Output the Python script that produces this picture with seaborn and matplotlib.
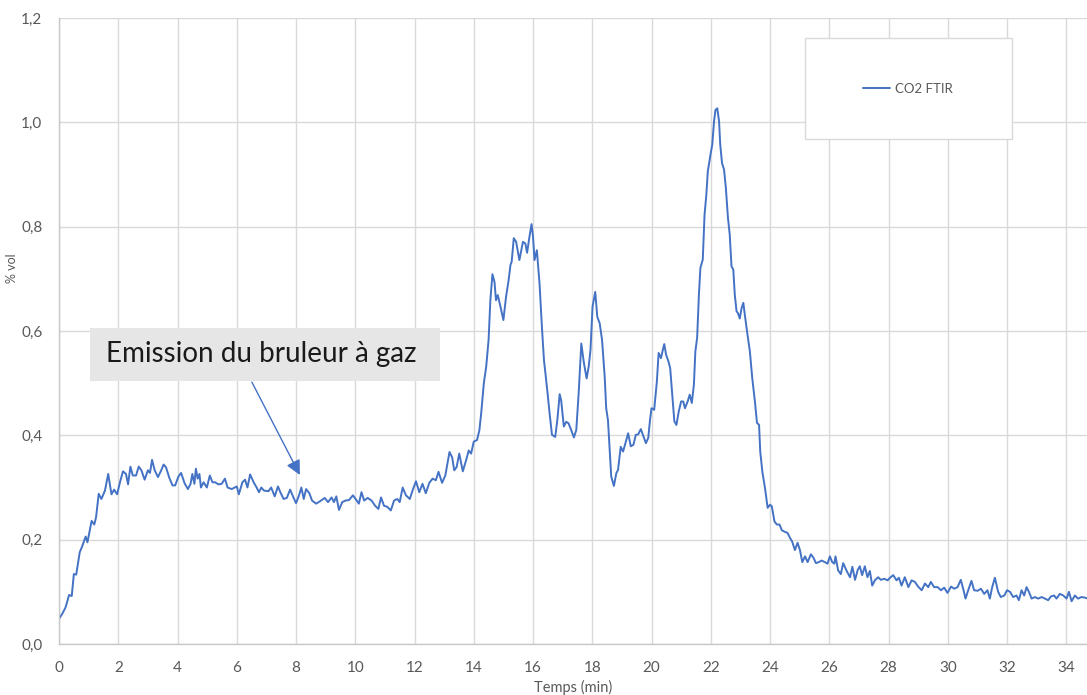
import pandas as pd
import seaborn as sns
import matplotlib.pyplot as plt
from matplotlib.patches import Rectangle
from matplotlib.ticker import FuncFormatter, MultipleLocator

# readings of the CO2 FTIR trace, split in segments (time in min, value in % vol)
t_rise = [0.00, 0.11, 0.22, 0.34, 0.43, 0.50, 0.58, 0.70, 0.78, 0.90,
          0.96, 1.10, 1.19, 1.25, 1.34, 1.43, 1.55, 1.66, 1.77, 1.86,
          1.96, 2.07, 2.16, 2.26, 2.33, 2.41, 2.49, 2.60, 2.69, 2.78,
          2.89, 3.00, 3.07, 3.14, 3.23, 3.34, 3.45, 3.53, 3.61, 3.72,
          3.83, 3.92, 4.03, 4.12, 4.24, 4.35, 4.44, 4.50, 4.57, 4.62,
          4.68, 4.74, 4.79, 4.88, 4.99, 5.09, 5.18, 5.27, 5.38, 5.49,
          5.60, 5.69, 5.83, 6.00, 6.07, 6.19, 6.28, 6.36, 6.45, 6.57,
          6.67, 6.75, 6.83, 6.92]
co2_rise = [0.048, 0.058, 0.070, 0.094, 0.092, 0.134, 0.133, 0.176, 0.187, 0.206,
            0.195, 0.236, 0.229, 0.243, 0.288, 0.278, 0.294, 0.326, 0.287, 0.296,
            0.287, 0.313, 0.331, 0.326, 0.306, 0.340, 0.323, 0.323, 0.340, 0.333,
            0.315, 0.333, 0.328, 0.353, 0.333, 0.320, 0.333, 0.344, 0.339, 0.319,
            0.304, 0.304, 0.321, 0.328, 0.308, 0.297, 0.307, 0.326, 0.307, 0.336,
            0.317, 0.326, 0.300, 0.310, 0.300, 0.323, 0.310, 0.310, 0.306, 0.307,
            0.317, 0.300, 0.297, 0.302, 0.287, 0.310, 0.315, 0.300, 0.325, 0.310,
            0.300, 0.291, 0.300, 0.294]

t_burner = [7.07, 7.16, 7.28, 7.39, 7.47, 7.58, 7.69, 7.80, 7.92, 8.00,
            8.09, 8.18, 8.26, 8.34, 8.45, 8.54, 8.68, 8.82, 8.97, 9.08,
            9.20, 9.28, 9.36, 9.45, 9.56, 9.67, 9.79, 9.92, 10.05, 10.12,
            10.21, 10.30, 10.42, 10.55, 10.67, 10.78, 10.87, 10.97, 11.08, 11.20,
            11.31, 11.42, 11.50, 11.60, 11.71, 11.84, 11.95, 12.05, 12.16, 12.27,
            12.38, 12.50, 12.61, 12.72, 12.81, 12.93, 13.04, 13.18, 13.27, 13.34,
            13.42, 13.51, 13.63, 13.74, 13.83, 13.91]
co2_burner = [0.293, 0.300, 0.283, 0.302, 0.291, 0.278, 0.280, 0.296, 0.280, 0.270,
              0.283, 0.300, 0.278, 0.297, 0.289, 0.275, 0.269, 0.274, 0.280, 0.272,
              0.281, 0.272, 0.283, 0.257, 0.272, 0.275, 0.276, 0.285, 0.275, 0.269,
              0.291, 0.275, 0.280, 0.275, 0.265, 0.259, 0.281, 0.265, 0.263, 0.256,
              0.275, 0.278, 0.272, 0.300, 0.285, 0.278, 0.297, 0.312, 0.291, 0.307,
              0.289, 0.309, 0.317, 0.314, 0.330, 0.309, 0.323, 0.368, 0.358, 0.333,
              0.339, 0.365, 0.331, 0.352, 0.371, 0.365]

t_peaks1 = [14.00, 14.11, 14.19, 14.25, 14.34, 14.42, 14.50, 14.56, 14.63, 14.70,
            14.75, 14.81, 14.90, 15.00, 15.09, 15.17, 15.24, 15.28, 15.35, 15.43,
            15.54, 15.66, 15.74, 15.80, 15.88, 15.95, 16.00, 16.05, 16.13, 16.22,
            16.30, 16.37, 16.48, 16.56, 16.64, 16.75, 16.82, 16.90, 16.95, 17.04,
            17.12, 17.20, 17.29, 17.38, 17.46, 17.54, 17.63, 17.72, 17.81, 17.88,
            17.94, 18.01, 18.10, 18.17, 18.25, 18.33, 18.42, 18.47, 18.53, 18.59,
            18.64, 18.73, 18.81, 18.87, 18.96, 19.04, 19.12, 19.21]
co2_peaks1 = [0.388, 0.391, 0.410, 0.442, 0.500, 0.532, 0.583, 0.659, 0.709, 0.694,
              0.659, 0.669, 0.647, 0.621, 0.666, 0.695, 0.727, 0.733, 0.778, 0.771,
              0.736, 0.771, 0.768, 0.750, 0.781, 0.805, 0.781, 0.736, 0.755, 0.691,
              0.608, 0.544, 0.487, 0.442, 0.401, 0.397, 0.429, 0.479, 0.467, 0.417,
              0.426, 0.423, 0.410, 0.396, 0.410, 0.480, 0.576, 0.538, 0.509, 0.532,
              0.564, 0.647, 0.675, 0.627, 0.615, 0.583, 0.512, 0.452, 0.429, 0.372,
              0.321, 0.303, 0.327, 0.334, 0.378, 0.369, 0.385, 0.404]

t_peaks2 = [19.30, 19.39, 19.47, 19.55, 19.64, 19.73, 19.81, 19.89, 19.95, 20.00,
            20.09, 20.18, 20.24, 20.32, 20.37, 20.43, 20.49, 20.57, 20.63, 20.70,
            20.77, 20.84, 20.92, 21.00, 21.07, 21.13, 21.22, 21.29, 21.36, 21.43,
            21.48, 21.54, 21.60, 21.65, 21.73, 21.79, 21.85, 21.90, 21.99, 22.05,
            22.11, 22.16, 22.22, 22.28, 22.32, 22.38, 22.45, 22.51, 22.58, 22.64,
            22.70, 22.76, 22.81, 22.87, 22.92, 22.98, 23.04, 23.10, 23.15, 23.24,
            23.32, 23.40, 23.49, 23.56, 23.63, 23.67, 23.74, 23.83, 23.92, 24.00,
            24.06, 24.15, 24.23, 24.32]
co2_peaks2 = [0.379, 0.382, 0.401, 0.402, 0.412, 0.398, 0.385, 0.395, 0.430, 0.452,
              0.449, 0.503, 0.558, 0.548, 0.561, 0.575, 0.555, 0.542, 0.529, 0.478,
              0.427, 0.420, 0.446, 0.465, 0.465, 0.452, 0.465, 0.478, 0.462, 0.497,
              0.561, 0.587, 0.670, 0.721, 0.737, 0.823, 0.861, 0.906, 0.938, 0.957,
              1.002, 1.024, 1.027, 1.002, 0.957, 0.922, 0.909, 0.874, 0.817, 0.785,
              0.724, 0.718, 0.670, 0.638, 0.634, 0.624, 0.644, 0.654, 0.631, 0.593,
              0.561, 0.510, 0.465, 0.424, 0.420, 0.369, 0.331, 0.299, 0.261, 0.267,
              0.264, 0.235, 0.229, 0.229]

t_tail = [24.40, 24.50, 24.59, 24.67, 24.75, 24.84, 24.93, 25.01, 25.09, 25.18,
          25.27, 25.38, 25.47, 25.55, 25.65, 25.74, 25.85, 25.94, 26.02, 26.10,
          26.17, 26.21, 26.30, 26.39, 26.47, 26.58, 26.70, 26.78, 26.87, 26.96,
          27.03, 27.11, 27.20, 27.29, 27.37, 27.45, 27.54, 27.65, 27.74, 27.86,
          27.97, 28.05, 28.16, 28.27, 28.35, 28.44, 28.55, 28.67, 28.78, 28.89,
          29.00, 29.12, 29.23, 29.34, 29.43, 29.54, 29.66, 29.77, 29.88, 29.99,
          30.11, 30.22, 30.33, 30.44, 30.52, 30.60, 30.69, 30.80, 30.89, 31.01,
          31.12, 31.23, 31.34, 31.42, 31.50, 31.59, 31.70, 31.79, 31.91, 32.00,
          32.10, 32.21, 32.32, 32.40, 32.49, 32.58, 32.66, 32.74, 32.83, 32.94,
          33.05, 33.17, 33.28, 33.39, 33.48, 33.59, 33.67, 33.78, 33.90, 34.01,
          34.09, 34.18, 34.29, 34.40, 34.51, 34.62, 34.73]
co2_tail = [0.218, 0.215, 0.213, 0.204, 0.196, 0.180, 0.194, 0.180, 0.157, 0.168,
            0.157, 0.172, 0.165, 0.155, 0.157, 0.160, 0.157, 0.154, 0.168, 0.157,
            0.154, 0.168, 0.141, 0.134, 0.155, 0.141, 0.128, 0.148, 0.123, 0.142,
            0.149, 0.132, 0.149, 0.128, 0.140, 0.112, 0.122, 0.128, 0.123, 0.125,
            0.122, 0.127, 0.132, 0.122, 0.127, 0.112, 0.128, 0.109, 0.122, 0.119,
            0.110, 0.103, 0.116, 0.109, 0.119, 0.109, 0.109, 0.103, 0.108, 0.098,
            0.110, 0.106, 0.109, 0.123, 0.106, 0.087, 0.103, 0.121, 0.103, 0.102,
            0.106, 0.096, 0.103, 0.087, 0.109, 0.127, 0.100, 0.090, 0.093, 0.103,
            0.100, 0.090, 0.093, 0.084, 0.103, 0.093, 0.109, 0.100, 0.087, 0.090,
            0.087, 0.090, 0.087, 0.084, 0.091, 0.093, 0.087, 0.096, 0.093, 0.087,
            0.100, 0.082, 0.093, 0.087, 0.090, 0.089, 0.087]

series_name = "CO2 FTIR"
note_text = "Emission du bruleur à gaz"

BLUE = "#4472C4"
GRID = "#D9D9D9"
TXT = "#595959"

temps = t_rise + t_burner + t_peaks1 + t_peaks2 + t_tail
co2 = co2_rise + co2_burner + co2_peaks1 + co2_peaks2 + co2_tail
df = pd.DataFrame({"Temps (min)": temps, "% vol": co2})

sns.set_style("white")
plt.rcParams["font.family"] = ["Lato", "DejaVu Sans"]

fig = plt.figure(figsize=(10.87, 6.95), dpi=100)
ax = fig.add_axes([0.0543, 0.0734, 0.9457, 0.9006])

sns.lineplot(data=df, x="Temps (min)", y="% vol", ax=ax, color=BLUE,
             linewidth=1.4, estimator=None, sort=False, legend=False)

ax.set_xlim(0, 34.7)
ax.set_ylim(0, 1.2)
ax.xaxis.set_major_locator(MultipleLocator(2))
ax.yaxis.set_major_locator(MultipleLocator(0.2))
ax.yaxis.set_major_formatter(FuncFormatter(lambda v, p: f"{v:.1f}".replace(".", ",")))
ax.xaxis.set_major_formatter(FuncFormatter(lambda v, p: f"{v:.0f}"))
ax.grid(True, color=GRID, linewidth=1)
ax.set_axisbelow(True)
ax.tick_params(length=0, labelsize=11, labelcolor=TXT, pad=12)
for side in ["top", "right"]:
    ax.spines[side].set_visible(False)
for side in ["left", "bottom"]:
    ax.spines[side].set_color("#C8C8C8")
    ax.spines[side].set_linewidth(1)

ax.set_xlabel("Temps (min)", fontsize=10.5, color=TXT, labelpad=4)
ax.set_ylabel("% vol", fontsize=9, color=TXT)
ax.yaxis.set_label_coords(-0.040, 0.60)

# legend box
ax.add_patch(Rectangle((0.7257, 0.807), 0.2014, 0.161, transform=ax.transAxes,
                       facecolor="white", edgecolor=GRID, linewidth=1, zorder=4))
leg = ax.legend([plt.Line2D([], [], color=BLUE, linewidth=1.4)], [series_name],
                loc="center", bbox_to_anchor=(0.826, 0.887), frameon=False,
                fontsize=9.5, handlelength=2.0, handletextpad=0.4)
for txt in leg.get_texts():
    txt.set_color(TXT)
leg.set_zorder(5)

# annotation box + arrow
ax.add_patch(Rectangle((1.05, 0.504), 11.8, 0.102, facecolor="#E7E6E6",
                       edgecolor="none", zorder=4))
ax.text(1.6, 0.556, note_text, fontsize=20, color="#1A1A1A", va="center",
        ha="left", zorder=5)
ax.annotate("", xy=(8.13, 0.324), xytext=(6.51, 0.502),
            arrowprops=dict(arrowstyle="-|>", color=BLUE, lw=1,
                            mutation_scale=22, shrinkA=0, shrinkB=0), zorder=5)

plt.savefig("out.png", dpi=100)
